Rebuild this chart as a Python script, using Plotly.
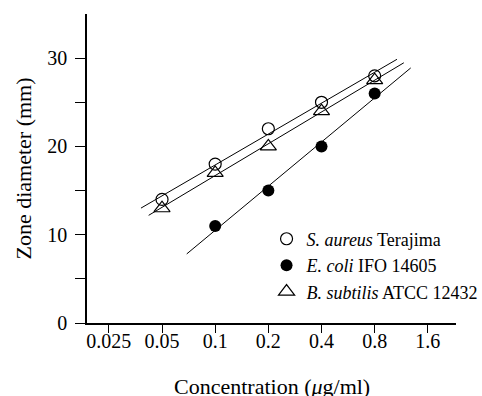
import numpy as np
import plotly.graph_objects as go

# Concentrations (µg/ml) and zone diameters (mm)
conc_sa = [0.05, 0.1, 0.2, 0.4, 0.8]
zone_sa = [14, 18, 22, 25, 28]

conc_ec = [0.1, 0.2, 0.4, 0.8]
zone_ec = [11, 15, 20, 26]

conc_bs = [0.05, 0.1, 0.2, 0.4, 0.8]
zone_bs = [13, 17, 20, 24, 27.5]

# Extent of each fitted line along the concentration axis
fit_range_sa = [0.038, 1.07]
fit_range_ec = [0.069, 1.28]
fit_range_bs = [0.042, 1.17]

x_ticks = [0.025, 0.05, 0.1, 0.2, 0.4, 0.8, 1.6]
x_tick_text = ["0.025", "0.05", "0.1", "0.2", "0.4", "0.8", "1.6"]
y_ticks = [0, 5, 10, 15, 20, 25, 30]
y_tick_text = ["0", "", "10", "", "20", "", "30"]

FONT = "Liberation Serif"


def fit_line(conc, zone, xr):
    """Least-squares line of zone diameter vs log concentration."""
    lx = np.log10(conc)
    slope, icpt = np.polyfit(lx, zone, 1)
    xs = np.array(xr)
    return xs, slope * np.log10(xs) + icpt


fig = go.Figure()

for conc, zone, xr in [(conc_sa, zone_sa, fit_range_sa),
                       (conc_bs, zone_bs, fit_range_bs),
                       (conc_ec, zone_ec, fit_range_ec)]:
    xs, ys = fit_line(conc, zone, xr)
    fig.add_trace(go.Scatter(x=xs, y=ys, mode="lines",
                             line=dict(color="black", width=1),
                             showlegend=False, hoverinfo="skip"))

fig.add_trace(go.Scatter(
    x=conc_sa, y=zone_sa, mode="markers", name="<i>S. aureus</i> Terajima",
    marker=dict(symbol="circle-open", size=12, color="black",
                line=dict(width=1.2, color="black"))))
fig.add_trace(go.Scatter(
    x=conc_ec, y=zone_ec, mode="markers", name="<i>E. coli</i> IFO 14605",
    marker=dict(symbol="circle", size=12, color="black")))
fig.add_trace(go.Scatter(
    x=conc_bs, y=zone_bs, mode="markers", name="<i>B. subtilis</i> ATCC 12432",
    marker=dict(symbol="triangle-up-open", size=14, color="black",
                line=dict(width=1.2, color="black"))))

fig.update_layout(
    width=482, height=396,
    margin=dict(l=87, r=26, t=14, b=73, autoexpand=False),
    paper_bgcolor="white", plot_bgcolor="white",
    font=dict(family=FONT, size=18, color="black"),
    legend=dict(x=0.553, y=0.443, xref="container", yref="container",
                xanchor="left", yanchor="top",
                bgcolor="rgba(0,0,0,0)", font=dict(size=18),
                itemwidth=30, tracegroupgap=0),
    xaxis=dict(
        type="log", range=[np.log10(0.0188), np.log10(2.31)],
        tickvals=x_ticks, ticktext=x_tick_text,
        tickfont=dict(size=20),
        ticks="outside", ticklen=8, tickwidth=1.2, tickcolor="black",
        showline=True, linecolor="black", linewidth=1.5,
        showgrid=False, zeroline=False, ticklabelstandoff=-9,
    ),
    yaxis=dict(
        range=[0, 35],
        tickvals=y_ticks, ticktext=y_tick_text,
        tickfont=dict(size=20),
        ticks="outside", ticklen=10, tickwidth=1.2, tickcolor="black",
        showline=True, linecolor="black", linewidth=1.5,
        showgrid=False, zeroline=False, ticklabelstandoff=4,
        title=dict(text="Zone diameter (mm)", standoff=10),
    ),
    annotations=[dict(
        text="Concentration (<i>μ</i>g/ml)", showarrow=False,
        xref="paper", yref="paper", x=0.5, y=-0.207,
        xanchor="center", yanchor="middle",
        font=dict(family=FONT, size=22, color="black"),
    )],
)

fig.write_html("out.html")
